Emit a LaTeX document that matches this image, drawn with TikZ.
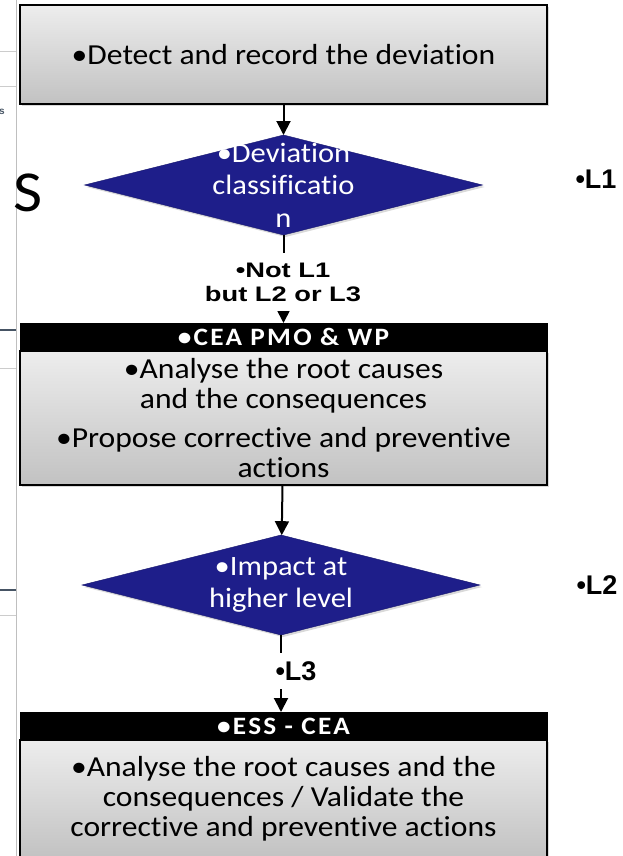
\documentclass[tikz,border=0pt]{standalone}
\usepackage{fontspec}
\setmainfont{Carlito}[FakeStretch=1.09, Ligatures=NoCommon]
\newfontfamily\headfont{Carlito}[FakeStretch=1.09, LetterSpace=9, Ligatures=NoCommon]
\newfontfamily\labelfont{Liberation Sans}
\newfontfamily\widelabelfont{Liberation Sans}[FakeStretch=1.3]
\usepackage{tikz}
\usetikzlibrary{arrows.meta,positioning,shapes.geometric,shadows}
\definecolor{decblue}{RGB}{30,30,138}
\definecolor{panelline}{RGB}{70,84,100}

\begin{document}
\begin{tikzpicture}[x=1pt, y=-1pt,
  font=\fontsize{29}{30}\selectfont,
  box/.style={draw, line width=1.4pt, align=center, inner sep=0pt, outer sep=0pt,
              minimum width=527pt, top color=black!7, bottom color=black!24,
              drop shadow={shadow xshift=2pt, shadow yshift=-2pt, opacity=.3}},
  head/.style={draw, fill=black, text=white, inner sep=0pt, outer sep=0pt,
               font=\headfont\bfseries\fontsize{25}{28}\selectfont,
               minimum width=527pt, minimum height=28pt},
  dec/.style={diamond, fill=decblue, draw=decblue!80!black, inner sep=0pt, outer sep=0pt,
              minimum width=398pt, minimum height=100pt,
              drop shadow={shadow xshift=2pt, shadow yshift=-2pt, opacity=.3}},
  dectext/.style={text=white, align=center, font=\fontsize{28}{32.5}\selectfont},
  lbl/.style={font=\labelfont\bfseries\fontsize{27}{30}\selectfont, align=center,
              fill=white, inner xsep=1pt, inner ysep=8pt},
  widelbl/.style={lbl, font=\widelabelfont\bfseries\fontsize{21}{24}\selectfont,
                  inner ysep=10pt},
  arr/.style={-{Triangle[width=14pt,length=14pt]}, line width=2pt}]

\useasboundingbox (0,0) rectangle (623,856);

% left margin: edge of the slide behind
\draw[black!25, line width=1pt] (16,0) -- (16,856);
\foreach \y in {52,87,368,615}
  \draw[black!20, line width=1pt] (0,\y) -- (16,\y);
\foreach \y in {330,590}
  \draw[panelline, line width=1.2pt] (0,\y) -- (16,\y);
\node[font=\labelfont\bfseries\fontsize{10}{12}\selectfont, text=panelline,
      anchor=west, inner sep=0pt] (stub) at (-1,112) {s};
\node[font=\fontsize{58}{60}\selectfont, anchor=west, inner sep=0pt] (title) at (13,193) {S};

% flow
\node[box, minimum height=99pt] (detect) at (283.5,54.5)
  {\textbullet Detect and record the deviation};
\node[dec, below=31pt of detect] (classify) {};
\node[dectext] (classifytext) at (classify.center)
  {\textbullet Deviation\\classificatio\\n};
\node[head, below=88pt of classify] (pmo) {\textbullet CEA PMO \& WP};
\node[box, below=0pt of pmo, minimum height=134pt] (analyse)
  {\textbullet Analyse the root causes\\and the consequences\\[9pt]
   \textbullet Propose corrective and preventive\\actions};
\node[dec, below=50pt of analyse, xshift=-2.5pt] (impact) {};
\node[dectext] (impacttext) at (impact.center)
  {\textbullet Impact at\\higher level};
\node[head, below=77pt of impact, xshift=2.5pt] (ess) {\textbullet ESS - CEA};
\node[box, below=0pt of ess, minimum height=118pt] (validate)
  {\textbullet Analyse the root causes and the\\consequences / Validate the\\
   corrective and preventive actions};

\draw[arr] (detect) -- (classify);
\draw[arr] (classify) -- (pmo);
\draw[arr] (analyse) -- (impact);
\draw[arr] (impact.south) -- (impact.south |- ess.north);

\node[widelbl] (notl1) at (283,282) {\textbullet Not L1\\but L2 or L3};
\node[lbl] (lthree) at (296,671) {\textbullet L3};
\node[lbl, fill=none] (lone) at (596,179) {\textbullet L1};
\node[lbl, fill=none] (ltwo) at (597,585) {\textbullet L2};
\end{tikzpicture}
\end{document}
